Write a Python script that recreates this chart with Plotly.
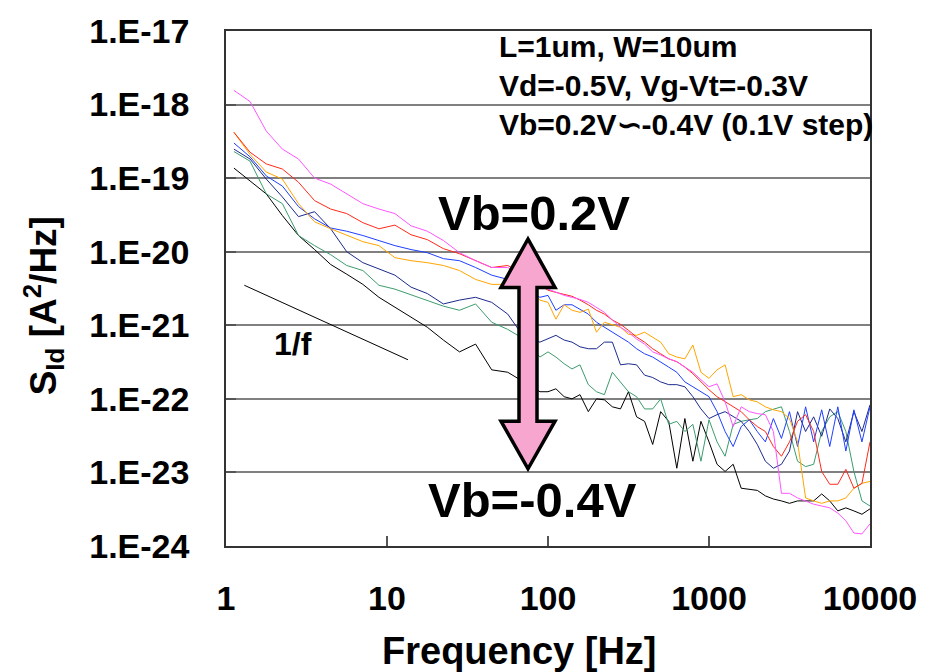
import plotly.graph_objects as go

# ---------------- data ----------------
freq = [1.12, 1.41, 1.78, 2.24, 2.82, 3.55, 4.47, 5.62, 7.08, 8.91,
        11.2, 14.1, 17.8, 22.4, 28.2, 35.5, 44.7, 56.2, 70.8, 89.1,
        100, 112, 126, 141, 158, 178, 200, 224, 251, 282,
        316, 355, 398, 447, 501, 562, 631, 708, 794, 891,
        1000, 1122, 1259, 1413, 1585, 1778, 1995, 2239, 2512, 2818,
        3162, 3548, 3981, 4467, 5012, 5623, 6310, 7079, 7943, 8913, 10000]

s_vb_p02 = [1.56e-18, 1.1e-18, 4.35e-19, 2.48e-19, 1.82e-19, 1.0e-19, 8.3e-20, 6.1e-20, 4.5e-20, 3.8e-20,
            3.3e-20, 2.25e-20, 1.9e-20, 1.42e-20, 9.7e-21, 7.55e-21, 6.1e-21, 6.1e-21, 4.5e-21, 3.4e-21,
            3.1e-21, 2.8e-21, 2.55e-21, 2.4e-21, 2.25e-21, 2.05e-21, 1.77e-21, 1.5e-21, 1.18e-21, 9.4e-22,
            8.05e-22, 6.5e-22, 5.55e-22, 4.35e-22, 3.95e-22, 3.5e-22, 3.2e-22, 2.7e-22, 2.3e-22, 1.82e-22,
            1.46e-22, 1.6e-22, 9.1e-23, 4.2e-23, 7.8e-23, 6.7e-23, 6.3e-23, 6.1e-23, 3.6e-23, 5.2e-24,
            5.2e-24, 4.5e-24, 4.1e-24, 3.7e-24, 3.5e-24, 3.3e-24, 2.8e-24, 2.2e-24, 1.5e-24, 1.46e-24, 2.0e-24]

s_vb_p01 = [4.2e-19, 2.25e-19, 1.56e-19, 1.33e-19, 8.8e-20, 4.95e-20, 3.8e-20, 3.3e-20, 2.48e-20, 2.05e-20,
            2.3e-20, 1.7e-20, 1.46e-20, 1.1e-20, 9.4e-21, 7.55e-21, 6.1e-21, 6.5e-21, 4.95e-21, 3.5e-21,
            3.0e-21, 2.8e-21, 2.6e-21, 2.48e-21, 2.2e-21, 1.9e-21, 1.6e-21, 1.42e-21, 1.18e-21, 1.03e-21,
            8.55e-22, 6.9e-22, 5.9e-22, 4.8e-22, 4.1e-22, 3.5e-22, 3.2e-22, 2.7e-22, 2.2e-22, 1.7e-22,
            1.33e-22, 1.07e-22, 9.1e-23, 7.8e-23, 6.7e-23, 5.2e-23, 4.2e-23, 3.6e-23, 2.25e-23, 1.66e-23,
            2.6e-23, 4.95e-23, 6.1e-23, 3.6e-23, 1.03e-23, 6.9e-24, 6.9e-24, 1.1e-23, 6.1e-24, 7.1e-24, 2.6e-23]

s_vb_0 = [4.2e-19, 2.1e-19, 1.21e-19, 9.7e-20, 4.5e-20, 2.55e-20, 2.05e-20, 1.66e-20, 1.37e-20, 1.21e-20,
          8.3e-21, 7.55e-21, 7.1e-21, 6.5e-21, 5.55e-21, 4.2e-21, 3.6e-21, 3.6e-21, 3.5e-21, 2.2e-21,
          2.05e-21, 1.21e-21, 1.9e-21, 1.6e-21, 1.5e-21, 1.66e-21, 8.05e-22, 1.1e-21, 1.03e-21, 9.4e-22,
          7.55e-22, 7.3e-22, 8.05e-22, 6.9e-22, 5.9e-22, 4.1e-22, 3.7e-22, 3.5e-22, 5.4e-22, 2.3e-22,
          1.9e-22, 2.48e-22, 2.9e-22, 1.07e-22, 1.14e-22, 9.7e-23, 9.1e-23, 7.8e-23, 7.1e-23, 6.7e-23,
          5.4e-23, 2.6e-23, 4.5e-24, 4.1e-24, 3.8e-24, 4.1e-24, 4.1e-24, 4.5e-24, 6.1e-24, 7.1e-24, 7.55e-24]

s_vb_m01 = [3.0e-19, 1.95e-19, 1.07e-19, 7.8e-20, 4.1e-20, 2.8e-20, 2.1e-20, 1.9e-20, 1.66e-20, 1.42e-20,
            1.21e-20, 1.07e-20, 9.7e-21, 8.05e-21, 7.55e-21, 6.1e-21, 4.8e-21, 4.2e-21, 3.0e-21, 2.4e-21,
            2.55e-21, 1.6e-21, 1.9e-21, 1.9e-21, 1.66e-21, 1.42e-21, 1.1e-21, 9.4e-22, 8.05e-22, 6.9e-22,
            5.9e-22, 4.8e-22, 4.1e-22, 3.7e-22, 3.2e-22, 2.7e-22, 2.3e-22, 1.7e-22, 1.46e-22, 1.25e-22,
            1.07e-22, 6.7e-23, 3.6e-23, 2.25e-23, 4.2e-23, 5.2e-23, 3.6e-23, 2.6e-23, 5.4e-23, 2.9e-23,
            6.7e-23, 2.25e-23, 7.8e-23, 2.6e-23, 7.1e-23, 2.25e-23, 7.8e-23, 1.95e-23, 7.1e-23, 2.6e-23, 7.8e-23]

s_vb_m02 = [2.48e-19, 1.82e-19, 9.7e-20, 5.55e-20, 3.0e-20, 3.5e-20, 2.05e-20, 1.0e-20, 7.1e-21, 5.9e-21,
            4.8e-21, 3.3e-21, 2.7e-21, 1.95e-21, 2.2e-21, 2.4e-21, 2.05e-21, 1.42e-21, 6.9e-22, 5.9e-22,
            6.5e-22, 7.3e-22, 6.3e-22, 5.9e-22, 5.1e-22, 4.8e-22, 4.8e-22, 5.9e-22, 5.9e-22, 2.9e-22,
            3.0e-22, 2.9e-22, 2.1e-22, 1.95e-22, 1.7e-22, 1.56e-22, 1.56e-22, 1.46e-22, 1.07e-22, 7.3e-23,
            5.4e-23, 6.1e-23, 6.7e-23, 5.7e-23, 4.95e-23, 3.6e-23, 2.4e-23, 1.42e-23, 1.14e-23, 1.29e-23,
            1.95e-23, 6.7e-23, 3.6e-23, 5.7e-23, 3.1e-23, 7.3e-23, 5.4e-23, 2.6e-23, 6.7e-23, 3.6e-23, 8.3e-23]

s_vb_m03 = [2.3e-19, 1.7e-19, 6.1e-20, 4.5e-20, 1.66e-20, 1.21e-20, 9.1e-21, 6.5e-21, 5.55e-21, 3.5e-21,
            3.1e-21, 2.6e-21, 2.2e-21, 1.82e-21, 1.6e-21, 1.95e-21, 1.1e-21, 8.8e-22, 6.5e-22, 3.7e-22,
            4.35e-22, 3.7e-22, 3.0e-22, 2.55e-22, 2.9e-22, 1.56e-22, 1.25e-22, 1.14e-22, 2.3e-22, 1.7e-22,
            1.25e-22, 1.07e-22, 7.3e-23, 7.3e-23, 1.0e-22, 4.5e-23, 4.95e-23, 3.6e-23, 4.5e-23, 1.42e-23,
            5.2e-23, 2.6e-23, 1.66e-23, 4.5e-23, 4.95e-23, 5.2e-23, 5.4e-23, 6.7e-23, 7.3e-23, 7.8e-23,
            3.6e-23, 1.42e-23, 1.2e-23, 1.29e-23, 3.6e-23, 5.7e-23, 6.7e-23, 3.6e-23, 1.03e-23, 4.1e-24, 3.5e-24]

s_vb_m04 = [1.37e-19, 9.1e-20, 6.1e-20, 3.1e-20, 1.66e-20, 1.07e-20, 6.7e-21, 4.95e-21, 3.6e-21, 2.4e-21,
            1.77e-21, 1.29e-21, 9.4e-22, 6.3e-22, 4.35e-22, 5.55e-22, 2.48e-22, 2.3e-22, 1.7e-22, 1.25e-22,
            1.25e-22, 1.37e-22, 1.07e-22, 1.0e-22, 1.14e-22, 6.7e-23, 1.0e-22, 9.7e-23, 7.8e-23, 7.3e-23,
            1.25e-22, 5.7e-23, 4.95e-23, 2.4e-23, 6.7e-23, 4.95e-23, 1.14e-23, 5.4e-23, 1.42e-23, 4.95e-23,
            2.6e-23, 1.29e-23, 1.03e-23, 1.29e-23, 6.1e-24, 5.9e-24, 5.7e-24, 4.8e-24, 4.35e-24, 4.1e-24,
            3.8e-24, 4.1e-24, 4.1e-24, 4.1e-24, 5.1e-24, 4.1e-24, 3.0e-24, 3.3e-24, 3.0e-24, 2.7e-24, 3.2e-24]

series_names = ["Vb=0.2V", "Vb=0.1V", "Vb=0V", "Vb=-0.1V", "Vb=-0.2V", "Vb=-0.3V", "Vb=-0.4V"]
series_vals = [s_vb_p02, s_vb_p01, s_vb_0, s_vb_m01, s_vb_m02, s_vb_m03, s_vb_m04]
series_colors = ["#FF55FF", "#FF2A1A", "#FFA500", "#1F3FFF", "#1C2A8C", "#3C9C6E", "#000000"]

oneoverf_f = [1.3, 13.5]
oneoverf_s = [3.5e-21, 3.4e-22]

y_tickvals = [1e-17, 1e-18, 1e-19, 1e-20, 1e-21, 1e-22, 1e-23, 1e-24]
y_ticktext = ["1.E-17", "1.E-18", "1.E-19", "1.E-20", "1.E-21", "1.E-22", "1.E-23", "1.E-24"]
x_tickvals = [1, 10, 100, 1000, 10000]
x_ticktext = ["1", "10", "100", "1000", "10000"]

# ---------------- layout geometry ----------------
W, H = 941, 672
L, T, PW, PH = 226, 26, 644, 520
FONT = "Liberation Sans, Arial, sans-serif"


def pxx(x):
    return (x - L) / PW


def pxy(y):
    return (T + PH - y) / PH


fig = go.Figure()

# draw lower curves first so the upper ones lie on top
for name, vals, col in reversed(list(zip(series_names, series_vals, series_colors))):
    fig.add_trace(go.Scatter(x=freq, y=vals, mode="lines", name=name,
                             line=dict(color=col, width=1),
                             showlegend=False))

fig.add_trace(go.Scatter(x=oneoverf_f, y=oneoverf_s, mode="lines",
                         line=dict(color="#000000", width=1), showlegend=False))

# double-headed arrow (pixel outline converted to paper coordinates)
arrow_pts = [(528, 236), (555, 285), (537, 285), (537, 420), (555, 420), (528, 468),
             (501, 420), (519, 420), (519, 285), (501, 285)]
path = "M " + " L ".join(f"{pxx(x):.5f},{pxy(y):.5f}" for x, y in arrow_pts) + " Z"
fig.add_shape(type="path", xref="paper", yref="paper", path=path,
              fillcolor="#F7A6D0", line=dict(color="#000000", width=3.5), layer="above")

annots = [
    dict(text="<b>L=1um, W=10um</b>", x=497, y=42, size=30, xanchor="left"),
    dict(text="<b>Vd=-0.5V, Vg-Vt=-0.3V</b>", x=497, y=81, size=30, xanchor="left"),
    dict(text="<b>Vb=0.2V∽-0.4V (0.1V step)</b>", x=497, y=120, size=30, xanchor="left"),
    dict(text="<b>Vb=0.2V</b>", x=534, y=210, size=49, xanchor="center"),
    dict(text="<b>Vb=-0.4V</b>", x=532, y=500, size=49, xanchor="center"),
    dict(text="<b>1/f</b>", x=293, y=342, size=32, xanchor="center"),
    dict(text="<b>Frequency [Hz]</b>", x=519, y=652, size=38, xanchor="center"),
]
for a in annots:
    fig.add_annotation(text=a["text"], x=pxx(a["x"]), y=pxy(a["y"]), xref="paper", yref="paper",
                       xanchor=a["xanchor"], yanchor="middle", showarrow=False,
                       font=dict(family=FONT, size=a["size"], color="#000000"))

fig.add_annotation(text="<b>S<sub>Id</sub> [A<sup>2</sup>/Hz]</b>", x=pxx(43), y=pxy(304),
                   xref="paper", yref="paper", xanchor="center", yanchor="middle",
                   textangle=-90, showarrow=False,
                   font=dict(family=FONT, size=37, color="#000000"))

fig.update_layout(
    width=W, height=H,
    margin=dict(l=L, r=W - L - PW, t=T, b=H - T - PH),
    paper_bgcolor="white", plot_bgcolor="white",
    showlegend=False,
)

fig.update_xaxes(type="log", range=[0, 4], tickvals=x_tickvals, ticktext=x_ticktext,
                 showgrid=False, zeroline=False,
                 showline=True, linecolor="#333333", linewidth=1.5, mirror=True,
                 ticks="inside", ticklen=10, tickcolor="#555555", tickwidth=1.5,
                 ticklabelstandoff=21,
                 tickfont=dict(family=FONT, size=34, color="#000000", weight="bold"))

fig.update_yaxes(type="log", range=[-24, -17], tickvals=y_tickvals, ticktext=y_ticktext,
                 showgrid=True, gridcolor="#808080", gridwidth=1.5, zeroline=False,
                 showline=True, linecolor="#333333", linewidth=1.5, mirror=True,
                 ticks="inside", ticklen=10, tickcolor="#555555", tickwidth=2,
                 ticklabelstandoff=28,
                 tickfont=dict(family=FONT, size=34, color="#000000", weight="bold"))

fig.write_html("out.html")
